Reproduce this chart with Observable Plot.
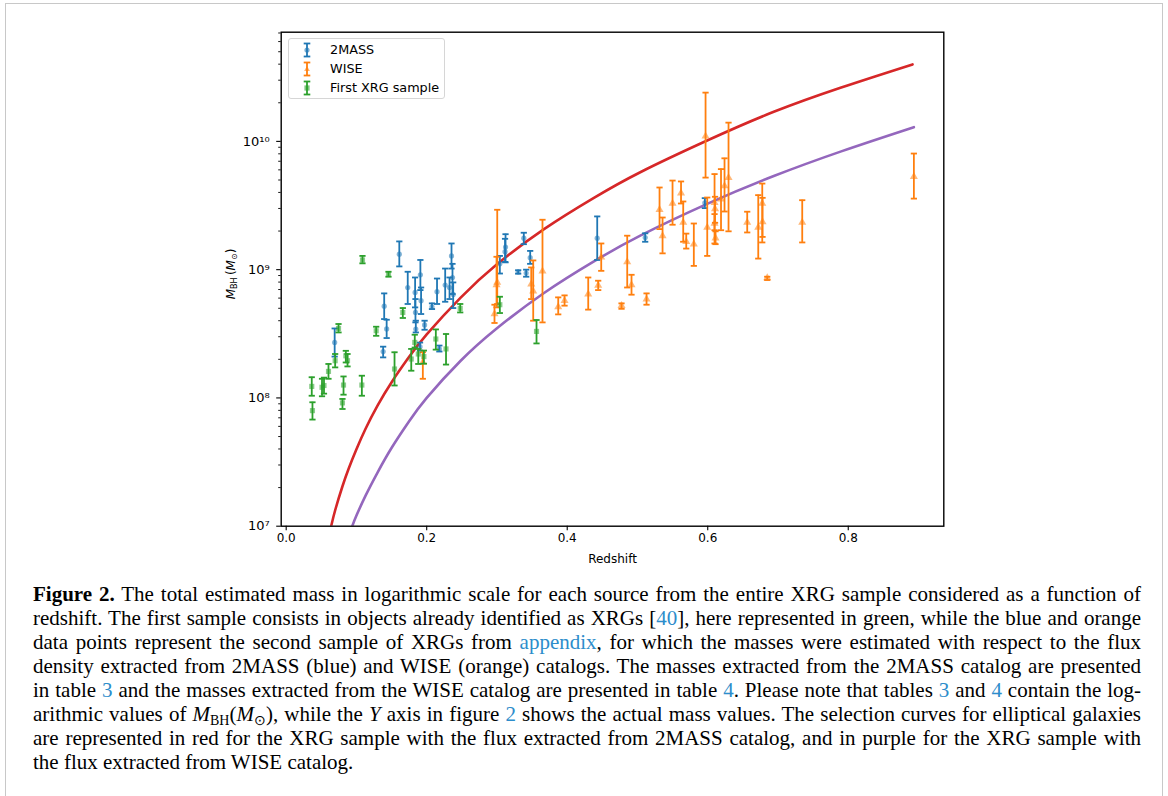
<!DOCTYPE html>
<html><head><meta charset="utf-8">
<script src="https://cdn.jsdelivr.net/npm/d3@7"></script>
<script src="https://cdn.jsdelivr.net/npm/@observablehq/plot@0.6"></script>
<style>
body{margin:0;background:#fff;}
#fig{position:relative;width:1168px;height:796px;overflow:hidden;background:#fff;}
#border{position:absolute;left:5px;top:3px;width:1158px;height:820px;border:1.5px solid #c8c8c8;box-sizing:border-box;}
#chart{position:absolute;left:0;top:0;}
#legend{position:absolute;left:288px;top:38px;width:157px;height:61px;border:1px solid #d6d6d6;border-radius:3px;box-sizing:border-box;font-family:"DejaVu Sans";font-size:12.8px;color:#000;background:rgba(255,255,255,0.8);}
.row{position:absolute;left:0;width:156px;height:18px;}
.row svg{position:absolute;left:8px;top:0;}
.row span{position:absolute;left:41px;top:1px;line-height:16px;white-space:nowrap;}
#ylabel{position:absolute;left:131px;top:264px;width:200px;text-align:center;font-family:"DejaVu Sans";font-size:12px;line-height:20px;transform:rotate(-90deg);transform-origin:50% 50%;}
#ylabel sub{font-size:8px;vertical-align:-2px;line-height:0;}
#caption{position:absolute;left:33px;top:582px;width:1108px;font-family:"Liberation Serif";font-size:21px;line-height:24px;color:#000;}
.ln{display:block;white-space:nowrap;}
.ln span.t{display:inline-block;white-space:nowrap;}
.bl{color:#2d8dcb;}
#caption sub{font-size:14px;vertical-align:-4px;line-height:0;}
</style>
</head><body>
<div id="fig">
  <div id="chart"></div>
  <div id="legend"></div>
  <div id="ylabel"><i>M</i><sub>BH</sub>&thinsp;(<i>M</i><sub>⊙</sub>)</div>
  <div id="caption">
    <div class="ln"><span class="t"><b>Figure 2.</b> The total estimated mass in logarithmic scale for each source from the entire XRG sample considered as a function of</span></div>
    <div class="ln"><span class="t">redshift. The first sample consists in objects already identified as XRGs [<span class="bl">40</span>], here represented in green, while the blue and orange</span></div>
    <div class="ln"><span class="t">data points represent the second sample of XRGs from <span class="bl">appendix</span>, for which the masses were estimated with respect to the flux</span></div>
    <div class="ln"><span class="t">density extracted from 2MASS (blue) and WISE (orange) catalogs. The masses extracted from the 2MASS catalog are presented</span></div>
    <div class="ln"><span class="t">in table <span class="bl">3</span> and the masses extracted from the WISE catalog are presented in table <span class="bl">4</span>. Please note that tables <span class="bl">3</span> and <span class="bl">4</span> contain the log-</span></div>
    <div class="ln"><span class="t">arithmic values of <i>M</i><sub>BH</sub>(<i>M</i><sub>⊙</sub>), while the <i>Y</i> axis in figure <span class="bl">2</span> shows the actual mass values. The selection curves for elliptical galaxies</span></div>
    <div class="ln"><span class="t">are represented in red for the XRG sample with the flux extracted from 2MASS catalog, and in purple for the XRG sample with</span></div>
    <div class="ln last"><span class="t">the flux extracted from WISE catalog.</span></div>
  </div>
  <div id="border"></div>
</div>
<script>
// ---------- data ----------
// First XRG sample (green squares)
const greenZ  = [0.0364,0.0374,0.051,0.0538,0.0602,0.0697,0.0745,0.0801,0.0816,0.0849,0.0873,0.1077,0.1086,0.1281,0.1456,0.1542,0.166,0.178,0.183,0.188,0.196,0.213,0.2275,0.2477,0.3041,0.3563];
const greenM  = [1.23e8,7.96e7,1.21e8,1.25e8,1.61e8,1.95e8,3.48e8,9.15e7,1.26e8,2.13e8,1.95e8,1.26e8,1.19e9,3.34e8,9.25e8,1.68e8,4.64e8,2.01e8,2.71e8,2.20e8,2.10e8,2.88e8,2.41e8,4.99e8,5.33e8,3.30e8];
const greenLo = [1.04e8,6.78e7,1.03e8,1.08e8,1.41e8,1.73e8,3.24e8,8.20e7,1.06e8,1.89e8,1.76e8,1.04e8,1.12e9,3.05e8,8.81e8,1.25e8,4.20e8,1.63e8,2.47e8,1.84e8,1.85e8,2.38e8,1.82e8,4.64e8,4.59e8,2.66e8];
const greenHi = [1.45e8,9.25e7,1.41e8,1.44e8,1.84e8,2.20e8,3.77e8,9.82e7,1.47e8,2.33e8,2.20e8,1.49e8,1.28e9,3.59e8,9.63e8,2.27e8,5.02e8,2.41e8,3.11e8,2.41e8,2.34e8,3.42e8,3.15e8,5.40e8,6.15e8,4.05e8];

// 2MASS (blue circles)
const blueZ  = [0.069,0.138,0.1395,0.143,0.161,0.173,0.1835,0.184,0.1845,0.191,0.192,0.197,0.1905,0.2075,0.2147,0.218,0.2263,0.2325,0.2353,0.2367,0.2377,0.3041,0.3122,0.3115,0.3302,0.3382,0.3416,0.3473,0.4427,0.511,0.5959];
const blueM  = [2.71e8,2.30e8,5.19e8,3.45e8,1.32e9,7.26e8,6.64e8,4.64e8,3.44e8,9.12e8,5.73e8,3.71e8,2.51e8,5.14e8,6.73e8,2.41e8,7.59e8,7.26e8,1.28e9,8.69e8,6.41e8,1.11e9,1.50e9,1.38e9,9.57e8,1.76e9,9.41e8,1.24e9,1.76e9,1.78e9,3.32e9];
const blueLo = [2.10e8,2.07e8,4.12e8,2.93e8,1.06e9,5.40e8,5.08e8,3.88e8,3.24e8,6.93e8,4.51e8,3.40e8,2.34e8,4.93e8,5.40e8,2.30e8,5.62e8,5.90e8,1.02e9,6.46e8,5.02e8,9.33e8,1.14e9,1.15e9,9.30e8,1.58e9,8.81e8,1.11e9,1.19e9,1.65e9,3.02e9];
const blueHi = [3.48e8,2.51e8,6.53e8,4.07e8,1.66e9,9.63e8,8.69e8,5.90e8,4.00e8,1.19e9,7.26e8,4.00e8,2.70e8,5.46e8,8.53e8,2.56e8,1.02e9,8.69e8,1.60e9,1.11e9,7.95e8,1.28e9,1.89e9,1.74e9,9.90e8,1.94e9,1.00e9,1.40e9,2.60e9,1.92e9,3.61e9];

// WISE (orange triangles)
const orangeZ  = [0.1945,0.3004,0.2994,0.2965,0.3488,0.3516,0.3648,0.3872,0.3962,0.4299,0.4441,0.4484,0.4773,0.4854,0.4915,0.5129,0.5314,0.5357,0.5499,0.562,0.5651,0.5694,0.5802,0.5969,0.5993,0.6097,0.6104,0.6097,0.6111,0.6189,0.6239,0.6296,0.6562,0.6719,0.6776,0.678,0.6847,0.7345,0.8934];
const orangeM  = [1.89e8,7.94e8,7.62e8,4.51e8,7.72e8,6.79e8,9.73e8,5.12e8,5.73e8,6.43e8,7.53e8,1.25e9,5.24e8,1.15e9,7.60e8,5.90e8,2.94e9,1.83e9,3.29e9,3.95e9,2.33e9,1.65e9,1.58e9,1.10e10,2.13e9,3.33e9,2.98e9,2.29e9,1.76e9,3.55e9,4.50e9,5.22e9,2.33e9,2.13e9,3.29e9,2.36e9,8.61e8,2.33e9,5.32e9];
const orangeLo = [1.41e8,5.40e8,5.08e8,3.84e8,5.90e8,4.00e8,3.88e8,4.48e8,5.24e8,4.88e8,6.93e8,9.79e8,4.95e8,7.26e8,6.38e8,5.33e8,2.07e9,1.34e9,2.24e9,3.28e9,1.65e9,1.46e9,1.07e9,5.22e9,1.28e9,2.03e9,2.32e9,1.60e9,1.58e9,2.03e9,2.84e9,1.99e9,1.95e9,1.22e9,1.63e9,1.80e9,8.30e8,1.63e9,3.58e9];
const orangeHi = [2.27e8,2.93e9,1.26e9,5.33e8,1.04e9,1.18e9,2.45e9,6.08e8,6.30e8,8.69e8,8.20e8,1.60e9,5.46e8,1.84e9,9.12e8,6.53e8,4.37e9,2.55e9,4.95e9,4.87e9,3.40e9,1.91e9,2.29e9,2.40e10,3.65e9,5.56e9,3.70e9,2.71e9,1.99e9,6.08e9,7.38e9,1.40e10,2.83e9,3.81e9,4.69e9,3.63e9,8.81e8,3.48e9,8.04e9];

// Selection curves
const redZ = [0.064,0.070,0.080,0.089,0.100,0.113,0.130,0.151,0.175,0.200,0.248,0.300,0.367,0.438,0.504,0.600,0.694,0.790,0.8915];
const redM = [1.00e7,1.35e7,2.04e7,2.82e7,3.98e7,5.75e7,8.71e7,1.35e8,2.09e8,3.13e8,6.03e8,1.10e9,2.07e9,3.63e9,5.75e9,1.02e10,1.70e10,2.63e10,3.98e10];
const purpleZ = [0.094,0.100,0.113,0.130,0.151,0.175,0.200,0.248,0.300,0.367,0.438,0.504,0.600,0.694,0.790,0.8934];
const purpleM = [1.00e7,1.21e7,1.73e7,2.62e7,4.16e7,6.58e7,1.00e8,1.94e8,3.49e8,6.58e8,1.16e9,1.84e9,3.27e9,5.37e9,8.36e9,1.29e10];

// Axes
const xTicks = [0.0,0.2,0.4,0.6,0.8];
const yMajor = [1e7,1e8,1e9,1e10];
const seriesNames = ["2MASS","WISE","First XRG sample"];
const colors = {"2MASS":"#1f77b4","WISE":"#ff7f0e","First XRG sample":"#2ca02c","red":"#d62728","purple":"#9467bd"};

// ---------- build tables ----------
const rows = (Z,M,Lo,Hi) => Z.map((z,i)=>({z, m:M[i], lo:Lo[i], hi:Hi[i]}));
const blue = rows(blueZ,blueM,blueLo,blueHi);
const orange = rows(orangeZ,orangeM,orangeLo,orangeHi);
const green = rows(greenZ,greenM,greenLo,greenHi);
const redCurve = redZ.map((z,i)=>({z, m:redM[i]}));
const purpleCurve = purpleZ.map((z,i)=>({z, m:purpleM[i]}));

const yMinor = [];
for (let e = 7; e <= 10; e++) for (let k = 2; k <= 9; k++) { const v = k*Math.pow(10,e); if (v <= 7.1e10) yMinor.push(v); }
const sup = {"0":"⁰","1":"¹","2":"²","3":"³","4":"⁴","5":"⁵","6":"⁶","7":"⁷","8":"⁸","9":"⁹"};
const fmtPow = d => "10" + String(Math.round(Math.log10(d))).split("").map(c=>sup[c]).join("");

const capSymbol = { draw(ctx, size) { const r = Math.sqrt(size/Math.PI); ctx.moveTo(-r,0); ctx.lineTo(r,0); } };

function errMarks(data, color, symbol, r) {
  return [
    Plot.ruleX(data, {x:"z", y1:"lo", y2:"hi", stroke:color, strokeWidth:1.8}),
    Plot.dot(data, {x:"z", y:"lo", symbol:capSymbol, r:3.1, stroke:color, strokeWidth:1.8, fill:"none"}),
    Plot.dot(data, {x:"z", y:"hi", symbol:capSymbol, r:3.1, stroke:color, strokeWidth:1.8, fill:"none"}),
    Plot.dot(data, {x:"z", y:"m", symbol, r, fill:color, fillOpacity:0.55, stroke:"none"})
  ];
}

const figW = 1168, figH = 570;
const frameL = 280.7, frameR = 943.3, frameT = 31.7, frameB = 525.7;

const chart = Plot.plot({
  width: figW, height: figH,
  marginLeft: frameL, marginRight: figW - frameR, marginTop: frameT, marginBottom: figH - frameB,
  style: {fontFamily: "DejaVu Sans", fontSize: "12px", color: "#000", background: "transparent", overflow: "visible"},
  x: {domain: [-0.0071, 0.936]},
  y: {type: "log", domain: [1e7, 7.1e10]},
  marks: [
    Plot.lineY(redCurve, {x:"z", y:"m", stroke:colors.red, strokeWidth:2.6, curve:"natural", clip:true}),
    Plot.lineY(purpleCurve, {x:"z", y:"m", stroke:colors.purple, strokeWidth:2.6, curve:"natural", clip:true}),
    ...errMarks(blue, colors["2MASS"], "circle", 2.6),
    ...errMarks(orange, colors["WISE"], "triangle", 3.0),
    ...errMarks(green, colors["First XRG sample"], "square", 2.9),
    Plot.axisY({ticks: yMinor, tickSize: 2.5, tickFormat: () => "", label: null, strokeWidth: 0.9}),
    Plot.axisY({ticks: yMajor, tickSize: 4.5, tickPadding: 7, tickFormat: fmtPow, label: null, strokeWidth: 1.1, fontSize: 13}),
    Plot.axisX({ticks: xTicks, tickSize: 4.5, tickPadding: 3, tickFormat: d => d.toFixed(1), label: "Redshift",
                labelAnchor: "center", labelArrow: "none", labelOffset: 37, strokeWidth: 1.1, fontSize: 12}),
    Plot.frame({stroke: "#000", strokeWidth: 1.4})
  ]
});
document.getElementById("chart").appendChild(chart);

// ---------- legend (HTML) ----------
const legend = document.getElementById("legend");
const shapes = {
  "2MASS": c => `<circle cx="10" cy="9" r="2.6" fill="${c}" fill-opacity="0.6"/>`,
  "WISE": c => `<path d="M10,5.9L12.9,10.9L7.1,10.9Z" fill="${c}" fill-opacity="0.6"/>`,
  "First XRG sample": c => `<rect x="7.4" y="6.4" width="5.2" height="5.2" fill="${c}" fill-opacity="0.6"/>`
};
seriesNames.forEach((name, i) => {
  const c = colors[name];
  const row = document.createElement("div");
  row.className = "row";
  row.style.top = (2 + i*19.2) + "px";
  row.innerHTML = `<svg width="20" height="18"><g stroke="${c}" stroke-width="1.8"><line x1="10" y1="2.5" x2="10" y2="15.5"/><line x1="6.7" y1="2.5" x2="13.3" y2="2.5"/><line x1="6.7" y1="15.5" x2="13.3" y2="15.5"/></g>${shapes[name](c)}</svg><span>${name}</span>`;
  legend.appendChild(row);
});

// ---------- justify caption lines ----------
const capW = 1108;
document.querySelectorAll("#caption .ln").forEach(ln => {
  if (ln.classList.contains("last")) return;
  const t = ln.querySelector("span.t");
  const w = t.getBoundingClientRect().width;
  const spaces = (t.textContent.match(/ /g) || []).length;
  if (spaces > 0) t.style.wordSpacing = ((capW - w) / spaces) + "px";
});
</script>
</body></html>
